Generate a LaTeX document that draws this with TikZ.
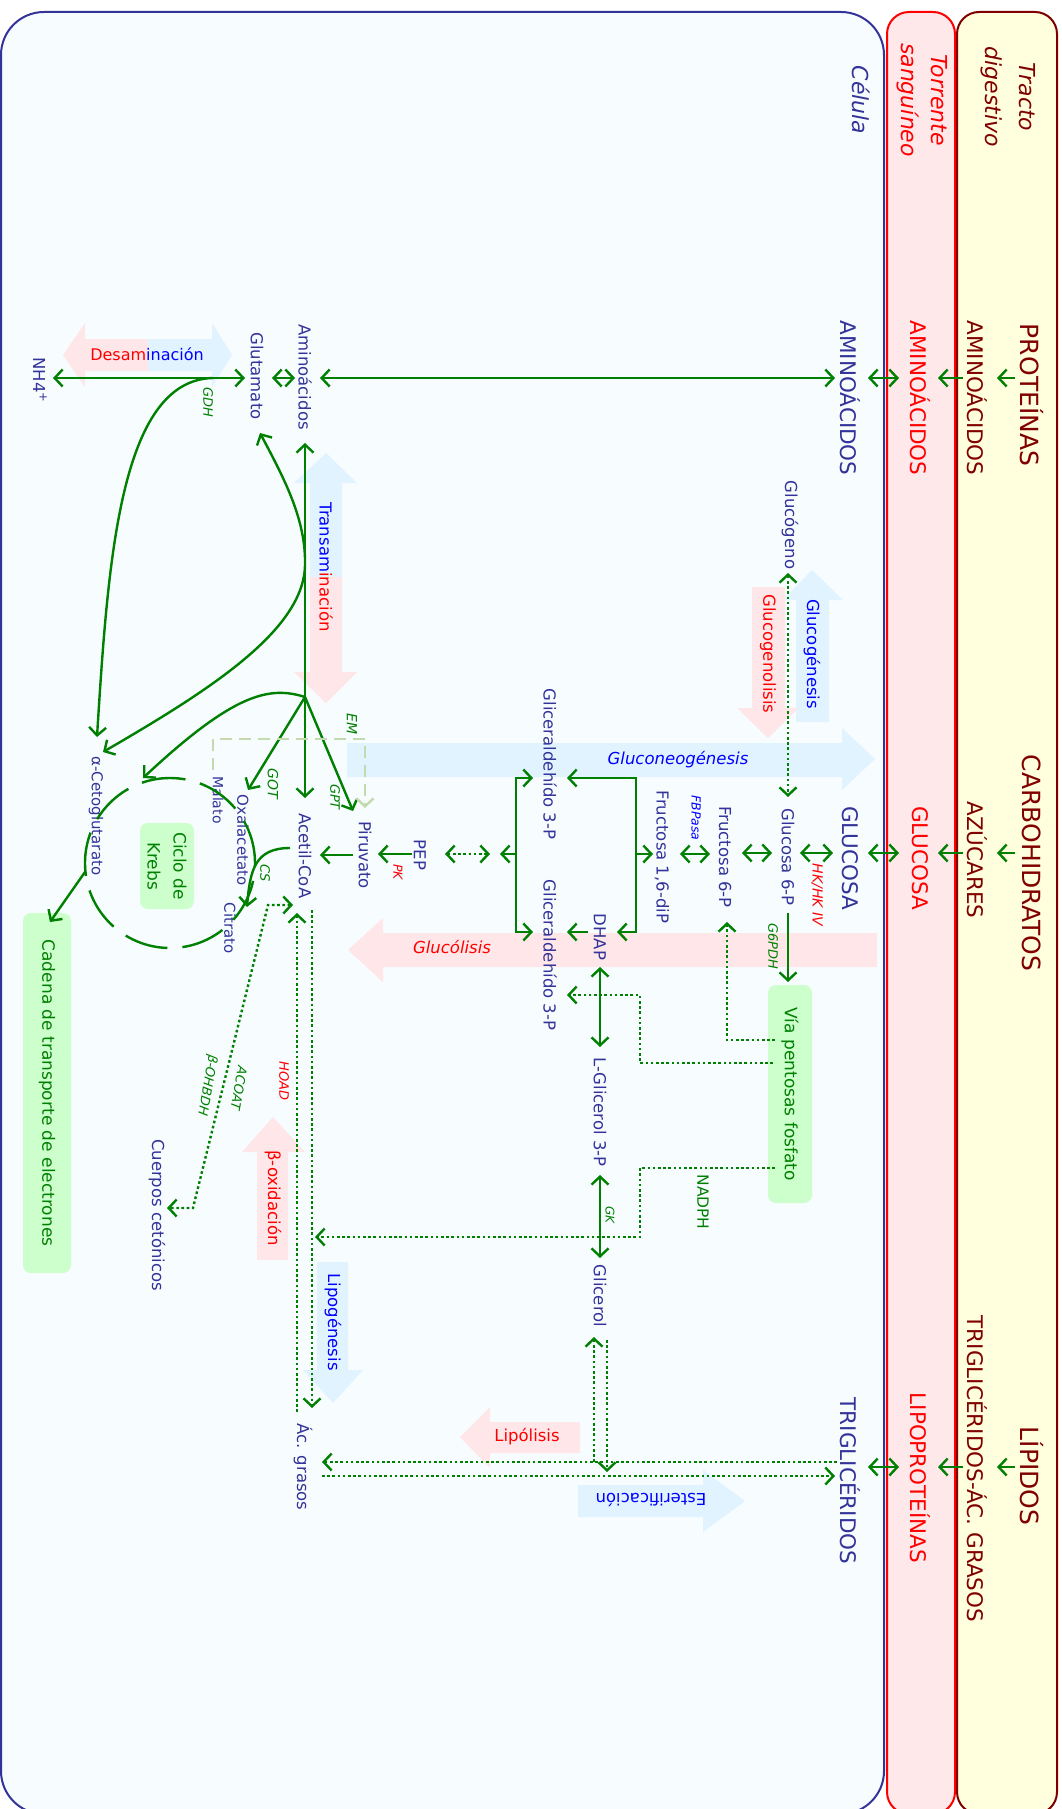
\documentclass[tikz,border=0pt]{standalone}
\usepackage{fontspec}
\setmainfont{DejaVu Sans}
\usetikzlibrary{arrows.meta}
\definecolor{met}{HTML}{333399}
\definecolor{grn}{HTML}{008000}
\definecolor{dred}{HTML}{800000}
\definecolor{pblue}{HTML}{0000FF}
\definecolor{lblue}{HTML}{E1F3FF}
\definecolor{lpink}{HTML}{FFE6E8}
\definecolor{gbox}{HTML}{CCFFCC}
\definecolor{cellbg}{HTML}{F7FCFF}
\definecolor{bloodbg}{HTML}{FFE8EA}
\definecolor{gutbg}{HTML}{FFFFDD}
\definecolor{emcol}{HTML}{C3D9AE}
\newcommand\fsz[1]{\fontsize{#1}{#1}\selectfont}
\tikzset{
  >={Straight Barb[length=8pt,width=17pt]},
  flow/.style={draw=grn, line width=2.4pt},
  dots/.style={flow, dash pattern=on 2.6pt off 2.6pt},
  emdash/.style={draw=emcol, line width=2.4pt, dash pattern=on 12pt off 7pt},
  lab/.style={rotate=-90, inner sep=0pt, text=met, font=\fsz{16.5}},
  caps/.style={rotate=-90, inner sep=0pt, font=\fsz{21.5}},
  big/.style={rotate=-90, inner sep=0pt, font=\fsz{25}, text=dred},
  enz/.style={rotate=-90, inner sep=0pt, text=grn, font=\fsz{13}\itshape},
  proc/.style={inner sep=0pt, font=\fsz{16.5}},
  gbx/.style={rotate=-90, fill=gbox, rounded corners=8pt, inner sep=0pt, text=grn, font=\fsz{17}},
}
\begin{document}
\begin{tikzpicture}[x=1pt,y=-1pt]
\useasboundingbox (0,0) rectangle (1062,1809);

% compartments
\draw[fill=cellbg, draw=met, line width=2pt, rounded corners=43pt] (1,12) rectangle (884,1814);
\draw[fill=bloodbg, draw=red, line width=2pt, rounded corners=22pt] (887,12) rectangle (955,1814);
\draw[fill=gutbg, draw=dred, line width=2pt, rounded corners=22pt] (957,12) rectangle (1057,1814);

\node[rotate=-90, inner sep=0pt, text=met, font=\fsz{22}\itshape] (celula) at (861,100) {Célula};
\node[rotate=-90, inner sep=0pt, text=red, font=\fontsize{22}{30}\selectfont\itshape, align=center] (torrente) at (922,100) {Torrente\\sanguíneo};
\node[rotate=-90, inner sep=0pt, text=dred, font=\fontsize{22}{34}\selectfont\itshape, align=center] (tracto) at (1008,97) {Tracto\\digestivo};

% process arrows (background bands)
\fill[lblue] (347,743) -- (842,743) -- (842,728) -- (875,759) -- (842,790) -- (842,777) -- (347,777) -- cycle;
\fill[lpink] (877,933) -- (383,933) -- (383,918) -- (348,950) -- (383,982) -- (383,967) -- (877,967) -- cycle;
\fill[lblue] (796,722) -- (796,600) -- (782,600) -- (812,570) -- (843,600) -- (829,600) -- (829,722) -- cycle;
\fill[lpink] (752,587) -- (785,587) -- (785,708) -- (798,708) -- (768,738) -- (737,708) -- (752,708) -- cycle;
\fill[lblue] (326,453) -- (357,483) -- (342,483) -- (342,577) -- (310,577) -- (310,483) -- (294,483) -- cycle;
\fill[lpink] (310,577) -- (342,577) -- (342,672) -- (357,672) -- (326,703) -- (294,672) -- (310,672) -- cycle;
\fill[lpink] (63,355) -- (85,323) -- (85,339) -- (148,339) -- (148,371) -- (85,371) -- (85,387) -- cycle;
\fill[lblue] (148,339) -- (212,339) -- (212,323) -- (232,355) -- (212,387) -- (212,371) -- (148,371) -- cycle;
\fill[lpink] (257,1260) -- (257,1152) -- (242,1152) -- (273,1117) -- (305,1152) -- (288,1152) -- (288,1260) -- cycle;
\fill[lblue] (317,1262) -- (348,1262) -- (348,1370) -- (363,1370) -- (333,1403) -- (303,1370) -- (317,1370) -- cycle;
\fill[lpink] (580,1422) -- (490,1422) -- (490,1407) -- (460,1437) -- (490,1468) -- (490,1453) -- (580,1453) -- cycle;
\fill[lblue] (578,1485) -- (703,1485) -- (703,1470) -- (745,1501) -- (703,1532) -- (703,1517) -- (578,1517) -- cycle;

\node[proc, text=pblue, font=\fsz{16.5}\itshape] (gng) at (678,760) {Gluconeogénesis};
\node[proc, text=red, font=\fsz{16.5}\itshape] (glicolisis) at (452,947) {Glucólisis};
\node[proc, text=pblue, rotate=-90] (glcg) at (812,654) {Glucogénesis};
\node[proc, text=red, rotate=-90] (glcgl) at (768,654) {Glucogenolisis};
\node[proc, rotate=-90] (transam) at (326,567) {\textcolor{pblue}{Transam}\textcolor{red}{inación}};
\node[proc, font=\fsz{16}] (desam) at (147,354) {\textcolor{red}{Desam}\textcolor{pblue}{inación}};
\node[proc, text=red, rotate=-90] (boxid) at (273,1198) {β-oxidación};
\node[proc, text=pblue, rotate=-90] (lipog) at (333,1322) {Lipogénesis};
\node[proc, text=red] (lipol) at (527,1437) {Lipólisis};
\node[proc, text=pblue, rotate=180] (ester) at (651,1500) {Esterificación};

% green boxes
\node[gbx, minimum width=218pt, minimum height=44pt] (ppp) at (790,1094) {Vía pentosas fosfato};
\node[gbx, minimum width=86pt, minimum height=54pt, align=center, font=\fontsize{17}{26}\selectfont] (krebs) at (167,866) {Ciclo de\\Krebs};
\node[gbx, minimum width=360pt, minimum height=48pt] (cadena) at (47,1093) {Cadena de transporte de electrones};

% outer columns
\node[big] (proteinas) at (1032,395) {PROTEÍNAS};
\node[big] (carbo) at (1032,863) {CARBOHIDRATOS};
\node[big] (lipidos) at (1032,1476) {LÍPIDOS};
\node[caps, text=dred] (aad) at (977,398) {AMINOÁCIDOS};
\node[caps, text=dred] (azucares) at (977,860) {AZÚCARES};
\node[caps, text=dred] (tgag) at (977,1469) {TRIGLICÉRIDOS-ÁC. GRASOS};
\node[caps, text=red] (aab) at (920,398) {AMINOÁCIDOS};
\node[caps, text=red] (glub) at (920,858) {GLUCOSA};
\node[caps, text=red] (lipo) at (920,1478) {LIPOPROTEÍNAS};
\node[caps, text=met] (aac) at (850,398) {AMINOÁCIDOS};
\node[caps, text=met] (gluc) at (850,858) {GLUCOSA};
\node[caps, text=met] (tgc) at (850,1481) {TRIGLICÉRIDOS};

% metabolites
\node[lab] (aminoacidos) at (305,377) {Aminoácidos};
\node[lab] (glutamato) at (257,376) {Glutamato};
\node[lab] (nh4) at (40,380) {NH4\textsuperscript{+}};
\node[lab] (glucogeno) at (790,525) {Glucógeno};
\node[lab] (g6p) at (788,857) {Glucosa 6-P};
\node[lab] (f6p) at (725,857) {Fructosa 6-P};
\node[lab] (f16) at (662,857) {Fructosa 1,6-diP};
\node[lab] (gap1) at (550,764) {Gliceraldehído 3-P};
\node[lab] (gap2) at (550,955) {Gliceraldehído 3-P};
\node[lab] (dhap) at (600,937) {DHAP};
\node[lab] (lg3p) at (600,1112) {L-Glicerol 3-P};
\node[lab] (glicerol) at (600,1296) {Glicerol};
\node[lab] (pep) at (420,855) {PEP};
\node[lab] (piruvato) at (365,855) {Piruvato};
\node[lab] (acetil) at (305,856) {Acetil-CoA};
\node[lab, font=\fsz{15}] (oxal) at (243,840) {Oxalacetato};
\node[lab, font=\fsz{14}] (malato) at (218,800) {Malato};
\node[lab, font=\fsz{15}] (citrato) at (230,928) {Citrato};
\node[lab, font=\fsz{15}] (akg) at (96,816) {α-Cetoglutarato};
\node[lab] (cuerpos) at (157,1215) {Cuerpos cetónicos};
\node[lab] (acgrasos) at (303,1467) {Ác. grasos};
\node[lab, text=grn, font=\fsz{15.5}] (nadph) at (703,1202) {NADPH};

% enzymes
\node[enz] (gdh) at (208,402) {GDH};
\node[enz, text=red, font=\fsz{14}\itshape] (hk) at (817,895) {HK/HK IV};
\node[enz] (g6pdh) at (773,946) {G6PDH};
\node[enz, text=pblue, font=\fsz{12.5}\itshape] (fbpasa) at (696,818) {FBPasa};
\node[enz, text=red, font=\fsz{12.5}\itshape] (pk) at (398,872) {PK};
\node[enz, font=\fsz{14}\itshape] (em) at (352,724) {EM};
\node[enz] (gpt) at (335,797) {GPT};
\node[enz, font=\fsz{14}\itshape] (got) at (273,784) {GOT};
\node[enz] (cs) at (265,873) {CS};
\node[enz, text=red] (hoad) at (284,1081) {HOAD};
\node[enz, font=\fsz{12}\itshape] (gk) at (610,1215) {GK};
\node[inner sep=0pt, text=grn, font=\fsz{13}\itshape, rotate=-100] (acoat) at (239,1088) {ACOAT};
\node[inner sep=0pt, text=grn, font=\fsz{13}\itshape, rotate=-100] (ohbdh) at (207,1085) {β-OHBDH};

% exchange between compartments
\foreach \yy in {378,853,1467} {
  \draw[flow,->] (1015,\yy) -- (997,\yy);
  \draw[flow,->] (963,\yy) -- (938,\yy);
  \draw[flow,<->] (868,\yy) -- (899,\yy);
}

% amino acids, transamination and deamination
\coordinate (hub) at (305,697);
\draw[flow,<->] (320,378) -- (835,378);
\draw[flow,<->] (272,378) -- (295,378);
\draw[flow,<->] (53,378) -- (245,378);
\draw[flow,->] (213,378) .. controls (120,380) and (108,560) .. (97,737);
\draw[flow,->] (hub) -- (305,443);
\draw[flow,->] (hub) -- (305,798);
\draw[flow,->] (hub) -- (248,790);
\draw[flow,->] (hub) -- (353,811);
\draw[flow,->] (hub) .. controls (270,686) and (235,692) .. (143,778);
\draw[flow,<->] (260,433) .. controls (285,480) and (306,520) .. (305,565) .. controls (304,630) and (210,690) .. (103,752);

% Krebs cycle
\draw[flow, dash pattern=on 44pt off 15pt] (170,863) circle[radius=85pt];
\draw[flow,->] (290,848) .. controls (255,848) and (250,870) .. (247,907);
\draw[flow,->] (85,872) -- (50,922);
\draw[emdash,->] (213,770) -- (213,739) -- (365,739) -- (365,808);

% glycolysis / gluconeogenesis
\draw[flow,->] (353,855) -- (320,855);
\draw[flow,->] (412,854) -- (378,854);
\draw[dots,<->] (445,854) -- (490,854);
\draw[flow,<->] (533,778) -- (516,778) -- (516,932) -- (533,932);
\draw[flow,->] (516,854) -- (500,854);
\draw[flow,<->] (567,778) -- (636,778) -- (636,932) -- (617,932);
\draw[flow,->] (636,854) -- (653,854);
\draw[flow,->] (588,932) -- (567,932);
\draw[flow,<->] (680,854) -- (710,854);
\draw[flow,<->] (742,853) -- (772,853);
\draw[flow,<->] (800,853) -- (833,853);
\draw[dots,<->] (788,573) -- (788,797);
\draw[flow,->] (788,913) -- (788,982);

% pentose phosphate outputs
\draw[dots,->] (775,1040) -- (727,1040) -- (727,922);
\draw[dots,->] (773,1063) -- (640,1063) -- (640,995) -- (567,995);
\draw[dots,->] (775,1168) -- (640,1168) -- (640,1237) -- (315,1237);

% glycerol and triglycerides
\draw[flow,<->] (600,967) -- (600,1047);
\draw[flow,<->] (600,1175) -- (600,1258);
\draw[dots,->] (594,1462) -- (594,1337);
\draw[dots,->] (607,1340) -- (607,1472);
\draw[dots,->] (837,1462) -- (322,1462);
\draw[dots,->] (322,1476) -- (835,1476);

% fatty acids and ketone bodies
\draw[dots,->] (297,1412) -- (297,913);
\draw[dots,->] (312,910) -- (312,1408);
\draw[dots,<->] (293,905) -- (268,905) -- (193,1208) -- (167,1208);

\end{tikzpicture}
\end{document}
